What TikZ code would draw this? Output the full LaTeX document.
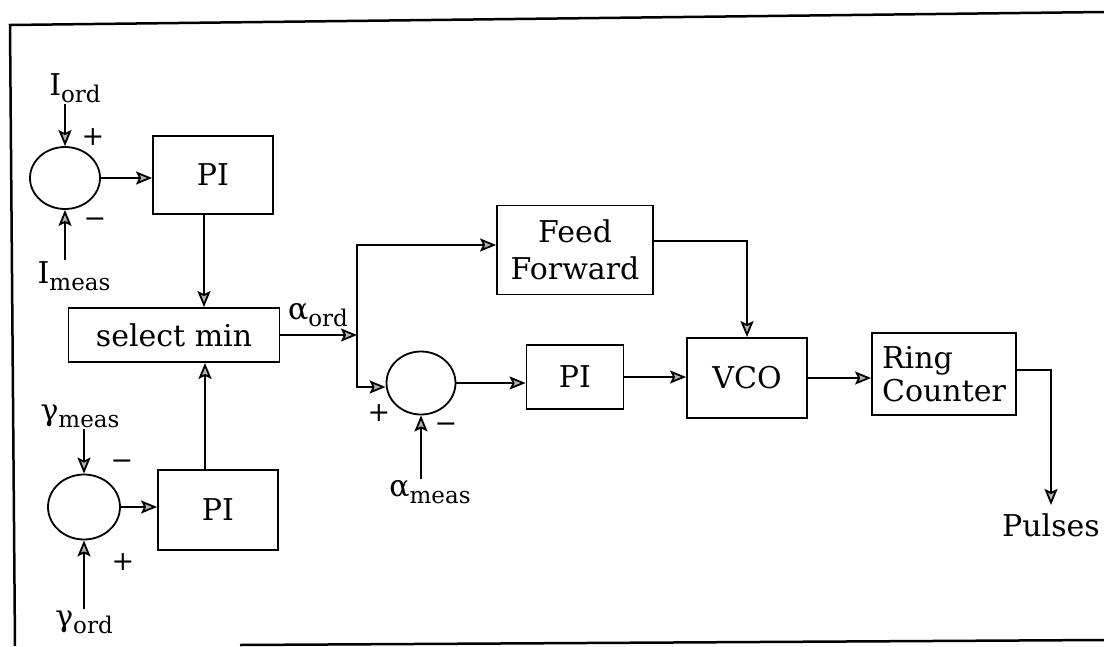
\documentclass[tikz,border=0pt]{standalone}
\usepackage{fontspec}
\setmainfont{DejaVu Serif}
\usetikzlibrary{arrows.meta,shapes.geometric,calc}
\newcommand{\mysub}[1]{\raisebox{-0.45ex}{\fontsize{23}{23}\selectfont #1}}
\begin{document}
\begin{tikzpicture}[x=1pt,y=-1pt,
 box/.style={draw,line width=1.8pt,inner sep=0pt,font=\fontsize{30}{37}\selectfont},
 sum/.style={draw,ellipse,line width=1.8pt,inner sep=0pt},
 arr/.style={line width=1.8pt,-{Stealth[length=16pt,width=13pt,inset=3pt,fill=gray!60]}},
 lbl/.style={font=\fontsize{30}{34}\selectfont,inner sep=1pt},
 sgn/.style={font=\fontsize{27}{27}\selectfont,inner sep=0pt}]
\useasboundingbox (0,0) rectangle (1104,646);
% frame
\draw[line width=2.5pt] (15,646) -- (10,25) -- (1104,12);
\draw[line width=2.5pt] (240,645) -- (1104,640);
% blocks
\node[sum,minimum width=70pt,minimum height=62pt] (s1) at (65,178) {};
\node[box,minimum width=120pt,minimum height=78pt] (pi1) at (213,175) {PI};
\node[box,minimum width=211pt,minimum height=54pt] (sel) at (174,335) {select min};
\node[sum,minimum width=72pt,minimum height=65pt] (s3) at (84,507) {};
\node[box,minimum width=120pt,minimum height=80pt] (pi3) at (218,510) {PI};
\node[box,minimum width=156pt,minimum height=89pt,align=center] (ff) at (575,250) {Feed\\Forward};
\node[sum,minimum width=69pt,minimum height=63pt] (s2) at (421,383) {};
\node[box,minimum width=97pt,minimum height=64pt] (pi2) at (575,377) {PI};
\node[box,minimum width=120pt,minimum height=80pt] (vco) at (747,378) {VCO};
\node[box,minimum width=144pt,minimum height=82pt,align=left,font=\fontsize{30}{33}\selectfont] (ring) at (944,374) {Ring\\Counter};
% labels
\node[lbl] (iord) at (75,88) {I\mysub{ord}};
\node[lbl] (imeas) at (74,276) {I\mysub{meas}};
\node[lbl] (aord) at (318,315) {α\mysub{ord}};
\node[lbl] (ameas) at (430,492) {α\mysub{meas}};
\node[lbl] (gmeas) at (80,416) {γ\mysub{meas}};
\node[lbl] (gord) at (84,622) {γ\mysub{ord}};
\node[lbl,anchor=east] (pulses) at (1101,525) {Pulses};
% signs
\node[sgn] at (93,137) {+};
\node[sgn] at (95,223) {−};
\node[sgn] at (122,465) {−};
\node[sgn] at (123,562) {+};
\node[sgn] at (379,413) {+};
\node[sgn] at (446,428) {−};
% connectors
\draw[arr] (s1.north |- iord.south) -- (s1.north);
\draw[arr] (s1.south |- imeas.north) -- (s1.south);
\draw[arr] (s1.east) -- (s1.east -| pi1.west);
\draw[arr] ([xshift=-9pt]pi1.south) -- ([xshift=-9pt]pi1.south |- sel.north);
\draw[arr] ([xshift=-13pt]pi3.north) -- ([xshift=-13pt]pi3.north |- sel.south);
\draw[arr] (s3.north |- gmeas.south) -- (s3.north);
\draw[arr] (s3.south |- gord.north) -- (s3.south);
\draw[arr] (s3.east) -- (s3.east -| pi3.west);
\coordinate (j) at (357,333);
\draw[arr] (sel.east) -- (sel.east -| j);
\draw[arr] (j) |- ([yshift=5pt]ff.west);
\draw[arr] (j) |- ([yshift=-4pt]s2.west);
\draw[arr] (s2.east) -- (s2.east -| pi2.west);
\draw[arr] (s2.south |- ameas.north) -- (s2.south);
\draw[arr] (pi2.east) -- (pi2.east -| vco.west);
\draw[arr] (vco.east) -- (vco.east -| ring.west);
\draw[arr] ([yshift=9pt]ff.east) -| (vco.north);
\coordinate (p) at (1051,505);
\draw[arr] ([yshift=4pt]ring.east) -| (p);
\end{tikzpicture}
\end{document}
